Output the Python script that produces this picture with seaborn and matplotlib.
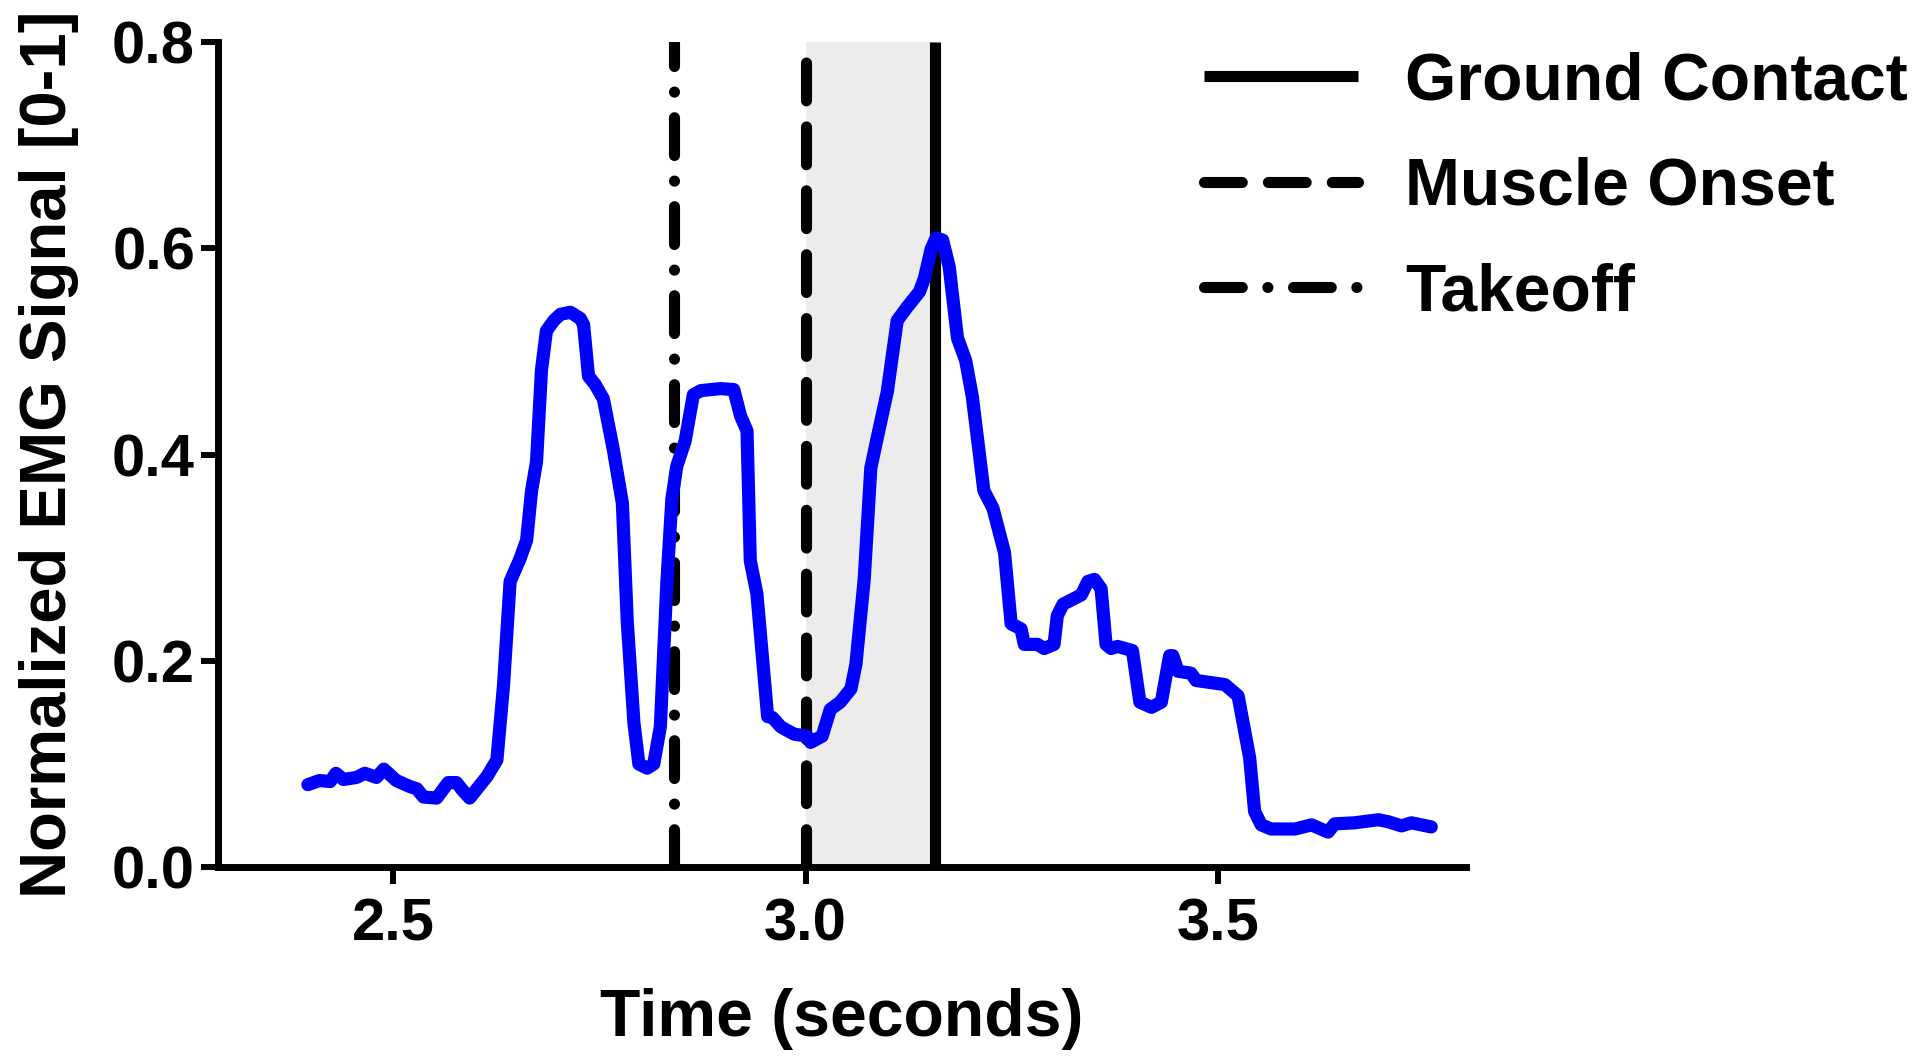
import seaborn as sns
import matplotlib
matplotlib.use("Agg")
import matplotlib.pyplot as plt

# EMG trace
time = [2.397, 2.411, 2.424, 2.431, 2.440, 2.456, 2.466, 2.480, 2.489, 2.504,
        2.521, 2.529, 2.537, 2.553, 2.567, 2.577, 2.585, 2.593, 2.614, 2.626,
        2.634, 2.642, 2.654, 2.662, 2.668, 2.674, 2.680, 2.686, 2.695, 2.703,
        2.715, 2.727, 2.731, 2.737, 2.745, 2.755, 2.767, 2.778, 2.784, 2.792,
        2.798, 2.808, 2.816, 2.824, 2.832, 2.838, 2.844, 2.854, 2.864, 2.873,
        2.897, 2.913, 2.921, 2.929, 2.933, 2.941, 2.954, 2.960, 2.970, 2.986,
        3.002, 3.006, 3.020, 3.030, 3.042, 3.055, 3.061, 3.071, 3.079, 3.087,
        3.099, 3.111, 3.123, 3.138, 3.144, 3.152, 3.158, 3.166, 3.174, 3.184,
        3.194, 3.202, 3.216, 3.227, 3.241, 3.249, 3.261, 3.265, 3.281, 3.289,
        3.301, 3.305, 3.312, 3.334, 3.342, 3.350, 3.358, 3.364, 3.370, 3.378,
        3.396, 3.405, 3.419, 3.431, 3.441, 3.445, 3.451, 3.467, 3.473, 3.508,
        3.524, 3.538, 3.544, 3.552, 3.564, 3.593, 3.613, 3.633, 3.641, 3.665,
        3.694, 3.706, 3.722, 3.734, 3.758]
emg = [0.080, 0.084, 0.083, 0.091, 0.085, 0.087, 0.091, 0.087, 0.095, 0.084,
       0.078, 0.076, 0.068, 0.067, 0.082, 0.082, 0.074, 0.067, 0.088, 0.104,
       0.176, 0.277, 0.299, 0.317, 0.365, 0.393, 0.482, 0.520, 0.530, 0.536,
       0.538, 0.532, 0.526, 0.476, 0.468, 0.454, 0.405, 0.353, 0.237, 0.140,
       0.100, 0.096, 0.100, 0.136, 0.277, 0.357, 0.389, 0.413, 0.458, 0.462,
       0.464, 0.463, 0.438, 0.423, 0.297, 0.265, 0.146, 0.145, 0.136, 0.129,
       0.127, 0.121, 0.127, 0.153, 0.160, 0.173, 0.197, 0.279, 0.387, 0.417,
       0.461, 0.530, 0.543, 0.558, 0.571, 0.599, 0.610, 0.608, 0.582, 0.513,
       0.491, 0.456, 0.365, 0.348, 0.305, 0.236, 0.231, 0.216, 0.216, 0.212,
       0.216, 0.244, 0.255, 0.264, 0.277, 0.279, 0.270, 0.216, 0.212, 0.214,
       0.210, 0.160, 0.155, 0.160, 0.205, 0.205, 0.190, 0.188, 0.181, 0.177,
       0.166, 0.106, 0.054, 0.041, 0.037, 0.037, 0.041, 0.034, 0.042, 0.043,
       0.046, 0.044, 0.040, 0.043, 0.039]

takeoff_t = 2.840
onset_t = 3.000
contact_t = 3.157

x_ticks = [2.5, 3.0, 3.5]
y_ticks = [0.0, 0.2, 0.4, 0.6, 0.8]

sns.set_style("ticks")
plt.rcParams['font.family'] = ['Liberation Sans', 'DejaVu Sans']
plt.rcParams['font.weight'] = 'bold'
plt.rcParams.update({'text.color': 'black', 'axes.labelcolor': 'black',
                     'xtick.color': 'black', 'ytick.color': 'black',
                     'axes.edgecolor': 'black'})

fig = plt.figure(figsize=(19.2, 10.64), dpi=100)
ax = fig.add_axes([0.1135, 0.185, 0.65, 0.7755])

vline_kw = dict(color='black', lw=8, dash_capstyle='round', solid_capstyle='butt', zorder=2)

ax.axvspan(onset_t, contact_t, color='#ececec', lw=0, zorder=0)
sns.lineplot(x=time, y=emg, color='#0000ff', linewidth=9.5, ax=ax, zorder=3,
             solid_capstyle='round', solid_joinstyle='round')
ax.axvline(contact_t, ls='-', label='Ground Contact', **vline_kw)
ax.axvline(onset_t, ls=(0, (3.4, 2.35)), label='Muscle Onset', **vline_kw)
ax.axvline(takeoff_t, ls=(0, (3.4, 2.3, 0.01, 2.3)), label='Takeoff', **vline_kw)

ax.set_xlim(2.288, 3.80)
ax.set_ylim(0, 0.8)
ax.set_xticks(x_ticks)
ax.set_yticks(y_ticks)
ax.set_xticklabels([f"{v:.1f}" for v in x_ticks])
ax.set_yticklabels([f"{v:.1f}" for v in y_ticks])

for side in ['top', 'right']:
    ax.spines[side].set_visible(False)
for side in ['left', 'bottom']:
    ax.spines[side].set_linewidth(5)
ax.tick_params(axis='both', width=4.3, length=12.5, labelsize=43)
ax.tick_params(axis='x', pad=9)
ax.tick_params(axis='y', pad=4)

ax.set_xlabel('Time (seconds)', fontsize=47.5, fontweight='bold', labelpad=26)
ax.set_ylabel('Normalized EMG Signal [0-1]', fontsize=47, fontweight='bold', labelpad=24)

ax.legend(loc='upper left', bbox_to_anchor=(0.627, 0.952), bbox_transform=fig.transFigure,
          frameon=False, fontsize=47.5, handlelength=2.33, handletextpad=0.72,
          labelspacing=0.66, borderpad=0, borderaxespad=0)

fig.savefig('out.png', dpi=100)
